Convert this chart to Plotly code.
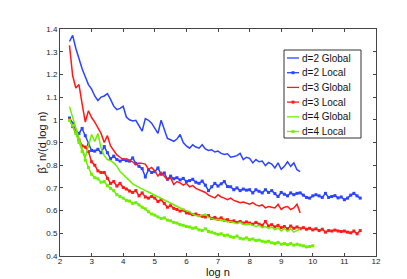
import numpy as np
import plotly.graph_objects as go

# x grids (log n)
x_global = np.round(np.arange(2.3, 9.6001, 0.1), 2)
x_local_long = np.round(np.arange(2.3, 11.5001, 0.1), 2)
x_local_d4 = np.round(np.arange(2.3, 10.0001, 0.1), 2)

d2_global = [1.345, 1.372, 1.315, 1.265, 1.225, 1.19, 1.155, 1.135, 1.105, 1.085,
             1.1, 1.105, 1.115, 1.09, 1.06, 1.045, 1.05, 1.06, 1.012, 1.0,
             0.995, 0.998, 0.972, 0.95, 1.005, 0.998, 0.985, 0.96, 0.94, 0.998,
             0.955, 0.918, 0.912, 0.905, 0.915, 0.935, 0.9, 0.885, 0.875, 0.89,
             0.88, 0.875, 0.89, 0.872, 0.865, 0.868, 0.858, 0.862, 0.852, 0.847,
             0.85, 0.835, 0.838, 0.842, 0.852, 0.825, 0.835, 0.83, 0.81, 0.825,
             0.815, 0.818, 0.798, 0.812, 0.805, 0.788, 0.81, 0.782, 0.795, 0.815,
             0.795, 0.81, 0.78, 0.772]

d2_local = [1.008, 0.985, 0.95, 0.94, 0.962, 0.93, 0.89, 0.865, 0.862, 0.87,
            0.855, 0.882, 0.855, 0.828, 0.84, 0.825, 0.818, 0.825, 0.82, 0.818,
            0.832, 0.808, 0.795, 0.785, 0.748, 0.78, 0.768, 0.772, 0.788, 0.76,
            0.766, 0.738, 0.752, 0.74, 0.745, 0.735, 0.742, 0.728, 0.732, 0.738,
            0.725, 0.72, 0.73, 0.712, 0.688, 0.705, 0.72, 0.708, 0.718, 0.728,
            0.706, 0.705, 0.692, 0.7, 0.688, 0.695, 0.69, 0.692, 0.678, 0.692,
            0.685, 0.678, 0.692, 0.68, 0.688, 0.675, 0.662, 0.68, 0.672, 0.665,
            0.678, 0.67, 0.676, 0.678, 0.668, 0.658, 0.655, 0.665, 0.67, 0.665,
            0.658, 0.676, 0.658, 0.662, 0.666, 0.656, 0.66, 0.648, 0.655, 0.668,
            0.676, 0.665, 0.655]

d3_global = [1.328, 1.195, 1.14, 1.155, 1.07, 0.99, 1.04, 1.01, 0.99, 0.965,
             0.94, 0.9, 0.93, 0.885, 0.862, 0.845, 0.835, 0.825, 0.828, 0.82,
             0.815, 0.802, 0.81, 0.808, 0.805, 0.782, 0.79, 0.775, 0.752, 0.768,
             0.752, 0.735, 0.745, 0.715, 0.728, 0.722, 0.712, 0.72, 0.705, 0.71,
             0.698, 0.692, 0.688, 0.68, 0.668, 0.662, 0.656, 0.67, 0.66, 0.655,
             0.648, 0.655, 0.645, 0.64, 0.635, 0.638, 0.632, 0.628, 0.635, 0.625,
             0.62, 0.625, 0.612, 0.618, 0.615, 0.612, 0.628, 0.605, 0.615, 0.618,
             0.605, 0.612, 0.628, 0.59]

d3_local = [1.0, 0.97, 0.945, 0.912, 0.885, 0.88, 0.86, 0.815, 0.8, 0.775,
            0.768, 0.768, 0.742, 0.72, 0.728, 0.708, 0.72, 0.702, 0.695, 0.686,
            0.68, 0.688, 0.665, 0.678, 0.66, 0.655, 0.662, 0.655, 0.64, 0.648,
            0.632, 0.615, 0.622, 0.61, 0.605, 0.598, 0.602, 0.59, 0.588, 0.582,
            0.585, 0.578, 0.575, 0.572, 0.578, 0.565, 0.57, 0.562, 0.568, 0.558,
            0.56, 0.552, 0.555, 0.548, 0.552, 0.545, 0.55, 0.545, 0.54, 0.548,
            0.54, 0.535, 0.552, 0.532, 0.538, 0.528, 0.535, 0.525, 0.53, 0.52,
            0.532, 0.522, 0.528, 0.52, 0.525, 0.518, 0.522, 0.515, 0.52, 0.512,
            0.518, 0.505, 0.512, 0.51, 0.514, 0.51, 0.508, 0.51, 0.505, 0.502,
            0.51, 0.498, 0.512]

d4_global = [1.058, 1.01, 0.965, 0.92, 0.872, 0.835, 0.88, 0.935, 0.905, 0.94,
             0.875, 0.842, 0.825, 0.82, 0.81, 0.795, 0.772, 0.76, 0.745, 0.732,
             0.718, 0.71, 0.702, 0.695, 0.688, 0.682, 0.675, 0.665, 0.66, 0.652,
             0.645, 0.638, 0.63, 0.625, 0.618, 0.61, 0.605, 0.6, 0.595, 0.585,
             0.578, 0.575, 0.58, 0.585, 0.57, 0.565, 0.56, 0.562, 0.555, 0.558,
             0.55, 0.552, 0.548, 0.542, 0.548, 0.54, 0.538, 0.542, 0.535, 0.53,
             0.535, 0.525, 0.53, 0.522, 0.528, 0.515, 0.525, 0.51, 0.522, 0.508,
             0.52, 0.505, 0.512, 0.52]

d4_local = [0.998, 0.975, 0.94, 0.9, 0.86, 0.822, 0.79, 0.76, 0.745, 0.74,
            0.725, 0.728, 0.71, 0.698, 0.688, 0.67, 0.662, 0.655, 0.645, 0.642,
            0.632, 0.635, 0.625, 0.615, 0.608, 0.595, 0.585, 0.58, 0.572, 0.565,
            0.568, 0.558, 0.555, 0.548, 0.545, 0.538, 0.535, 0.53, 0.528, 0.522,
            0.525, 0.515, 0.512, 0.52, 0.508, 0.505, 0.5, 0.495, 0.498, 0.49,
            0.492, 0.485, 0.482, 0.488, 0.478, 0.475, 0.48, 0.472, 0.475, 0.468,
            0.47, 0.465, 0.462, 0.465, 0.458, 0.455, 0.46, 0.452, 0.455, 0.45,
            0.455, 0.448, 0.452, 0.448, 0.445, 0.44, 0.442, 0.445]

names = ["d=2 Global", "d=2 Local", "d=3 Global", "d=3 Local", "d=4 Global", "d=4 Local"]
xs = [x_global, x_local_long, x_global, x_local_long, x_global, x_local_d4]
ys = [d2_global, d2_local, d3_global, d3_local, d4_global, d4_local]
colors = ["#2a44ff", "#2a44ff", "#ff1a1a", "#ff1a1a", "#6ef000", "#6ef000"]
is_local = [False, True, False, True, False, True]

# plot-area geometry in pixels (for converting legend layout to paper coords)
W, H = 407, 279
L, R, T, B = 52, 39, 21, 31
PW, PH = W - L - R, H - T - B


def px(xpix):
    return (xpix - L) / PW


def py(ypix):
    return 1 - (ypix - T) / PH


fig = go.Figure()
for n, x, y, c, loc in zip(names, xs, ys, colors, is_local):
    x = list(x)[:len(y)]
    if loc:
        fig.add_trace(go.Scatter(x=x, y=y, name=n, mode="lines+markers",
                                 line=dict(color=c, width=1.5),
                                 marker=dict(color=c, size=3, symbol="square")))
    else:
        fig.add_trace(go.Scatter(x=x, y=y, name=n, mode="lines",
                                 line=dict(color=c, width=1.5)))

axis_common = dict(showline=True, linecolor="#444", linewidth=1, mirror="ticks",
                   ticks="inside", ticklen=3, tickcolor="#444", showgrid=False,
                   zeroline=False, tickfont=dict(size=8, color="#222"))

# custom compact legend (MATLAB style)
shapes = [dict(type="rect", xref="paper", yref="paper",
               x0=px(276), x1=px(353), y0=py(130), y1=py(42),
               line=dict(color="#333", width=1), fillcolor="white", layer="above")]
annotations = []
row_y0, row_dy = 50, 14.7
for i, (n, c, loc) in enumerate(zip(names, colors, is_local)):
    yc = row_y0 + i * row_dy
    shapes.append(dict(type="line", xref="paper", yref="paper",
                       x0=px(279), x1=px(291), y0=py(yc), y1=py(yc),
                       line=dict(color=c, width=1.3), layer="above"))
    if loc:
        shapes.append(dict(type="rect", xref="paper", yref="paper",
                           x0=px(283.8), x1=px(286.2), y0=py(yc + 1.2), y1=py(yc - 1.2),
                           line=dict(color=c, width=0.5), fillcolor=c, layer="above"))
    annotations.append(dict(text=n, x=px(292), y=py(yc), xref="paper", yref="paper",
                            xanchor="left", yanchor="middle", showarrow=False,
                            font=dict(size=10, color="#111")))

annotations += [
    dict(text="β<sup>*</sup> n/(d log n)", x=px(33), y=0.5, xref="paper", yref="paper",
         xanchor="center", yanchor="middle", textangle=-90, showarrow=False,
         font=dict(size=11, color="#111")),
]

fig.update_layout(
    width=W, height=H,
    margin=dict(l=L, r=R, t=T, b=B),
    paper_bgcolor="white", plot_bgcolor="white",
    font=dict(family="Liberation Sans, Arial, sans-serif", color="#111"),
    xaxis=dict(range=[2, 12], tickvals=[2, 3, 4, 5, 6, 7, 8, 9, 10, 11, 12],
               ticklabelstandoff=-3,
               title=dict(text="log n", standoff=1, font=dict(size=11, color="#111")),
               **axis_common),
    yaxis=dict(range=[0.4, 1.4], tickvals=[0.4, 0.5, 0.6, 0.7, 0.8, 0.9, 1.0, 1.1, 1.2, 1.3, 1.4],
               ticktext=["0.4", "0.5", "0.6", "0.7", "0.8", "0.9", "1", "1.1", "1.2", "1.3", "1.4"],
               **axis_common),
    showlegend=False,
    shapes=shapes,
    annotations=annotations,
)

fig.write_html("out.html")
